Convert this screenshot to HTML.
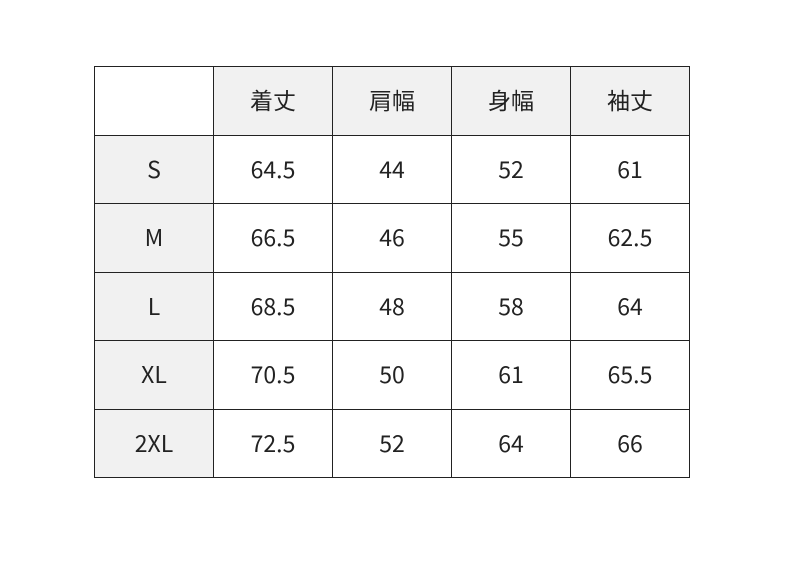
<!DOCTYPE html>
<html><head><meta charset="utf-8"><style>
body{margin:0;width:800px;height:573px;background:#fff;overflow:hidden}
table{position:absolute;left:94px;top:66px;border-collapse:collapse;table-layout:fixed;width:596px;font-family:"Noto Sans CJK JP",sans-serif;font-size:23px;color:#222}
td{border:1.5px solid #222;width:119px;height:68.5px;padding:0 0 3px 0;text-align:center;vertical-align:middle;box-sizing:border-box}
tr{height:68.5px}
.g{background:#f1f1f1}
</style></head><body>
<table>
<tr><td></td><td class="g">着丈</td><td class="g">肩幅</td><td class="g">身幅</td><td class="g">袖丈</td></tr>
<tr><td class="g">S</td><td>64.5</td><td>44</td><td>52</td><td>61</td></tr>
<tr><td class="g">M</td><td>66.5</td><td>46</td><td>55</td><td>62.5</td></tr>
<tr><td class="g">L</td><td>68.5</td><td>48</td><td>58</td><td>64</td></tr>
<tr><td class="g">XL</td><td>70.5</td><td>50</td><td>61</td><td>65.5</td></tr>
<tr><td class="g">2XL</td><td>72.5</td><td>52</td><td>64</td><td>66</td></tr>
</table>
</body></html>
